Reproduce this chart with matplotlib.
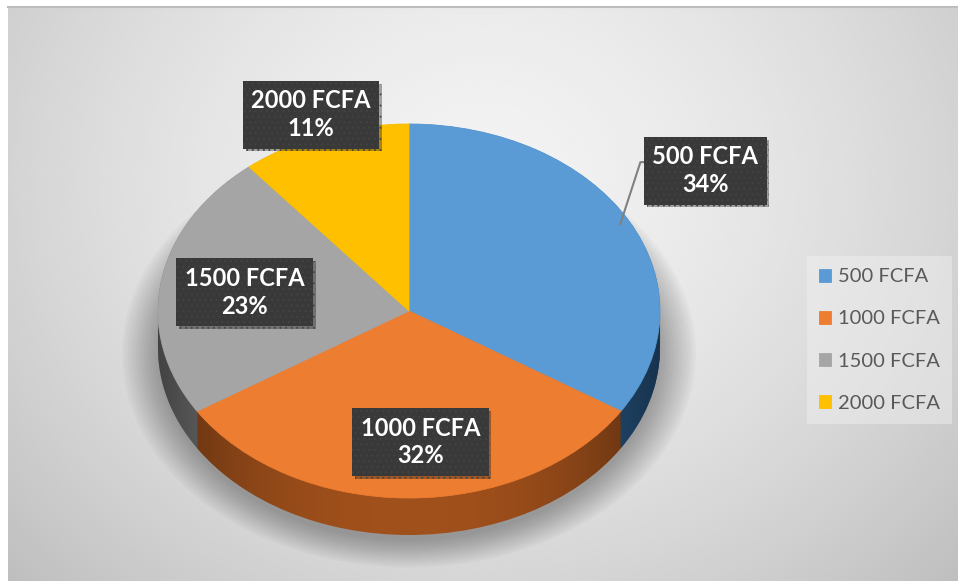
import numpy as np
import matplotlib.pyplot as plt
from matplotlib import patheffects as pe
from matplotlib.lines import Line2D
from matplotlib.path import Path
from matplotlib.patches import Ellipse

labels = ['500 FCFA', '1000 FCFA', '1500 FCFA', '2000 FCFA']
shares = [34, 32, 23, 11]
colors = ['#5B9BD5', '#ED7D31', '#A5A5A5', '#FFC000']
side_colors = ['#2A5B8A', '#A0501B', '#7A7A7A', '#B58900']

# data label centres, in pie radius units
label_pos = [(1.18, 0.75), (0.045, -0.70), (-0.655, 0.10), (-0.39, 1.05)]

plt.rcParams['hatch.linewidth'] = 0.6

W, H = 958, 581
fig = plt.figure(figsize=(W / 100, H / 100), dpi=100)
fig.patch.set_facecolor('white')

# grey gradient chart area
bg = fig.add_axes([8 / W, 0, 1 - 8 / W, 1 - 7 / H])
yy, xx = np.mgrid[0:1:300j, 0:1:500j]
r = np.sqrt(((xx - 0.5) / 0.55) ** 2 + ((yy - 0.3) / 0.8) ** 2)
bg.imshow(np.clip(0.95 - 0.14 * r ** 1.6, 0, 1), cmap='gray', vmin=0, vmax=1,
          aspect='auto', interpolation='bicubic')
bg.axis('off')
fig.add_artist(Line2D([8 / W, 1], [1 - 7 / H, 1 - 7 / H], color='#bdbdbd', lw=1.5))

# pie axes: 251 px per unit in x, 187 px per unit in y
cx, cy, rx, ry = 409, 311, 251, 187
xlim, ylim = (-1.3, 1.3), (-1.45, 1.2)
left = cx + xlim[0] * rx
bottom = cy - ylim[0] * ry
ax = fig.add_axes([left / W, (H - bottom) / H, (xlim[1] - xlim[0]) * rx / W,
                   (ylim[1] - ylim[0]) * ry / H])
ax.patch.set_alpha(0)
depth = 37 / ry

# soft shadow under the pie
for k in range(14):
    s = 1.0 + 0.011 * k
    ax.add_patch(Ellipse((0.0, -depth - 0.03), 2 * s, 2 * s, color='black',
                         alpha=0.022, lw=0, zorder=0.5))

# side of the 3D pie: stacked darker copies
for off in np.linspace(depth, 0, 40):
    ax.pie(shares, colors=side_colors, startangle=90, counterclock=False,
           center=(0, -off), wedgeprops=dict(linewidth=0))

# darker ends on the side
t1 = np.linspace(0, np.pi, 100)
t2 = np.linspace(np.pi, 2 * np.pi, 100)
verts = np.vstack([np.column_stack([np.cos(t1), np.sin(t1)]),
                   np.column_stack([np.cos(t2), np.sin(t2) - depth])])
clip = Path(verts, closed=True)
gx = np.linspace(-1, 1, 300)
shade = np.zeros((2, 300, 4))
shade[..., 3] = 0.45 * np.abs(gx) ** 2.5
im = ax.imshow(shade, extent=(-1, 1, -1 - depth, 1), aspect='auto',
               interpolation='bilinear', zorder=1.5)
im.set_clip_path(clip, transform=ax.transData)

# top face
wedges, _ = ax.pie(shares, colors=colors, startangle=90, counterclock=False,
                   wedgeprops=dict(linewidth=0.6, zorder=2))
for w, c in zip(wedges, colors):
    w.set_edgecolor(c)

ax.set_aspect('auto')
ax.set_xlim(*xlim)
ax.set_ylim(*ylim)
ax.axis('off')

# data labels
bbox = dict(boxstyle='square,pad=0.36', fc='#393939', ec='#444444', lw=0, hatch='...')
start = 90.0
for i, (lab, v) in enumerate(zip(labels, shares)):
    mid = np.radians(start - v * 1.8)
    start -= v * 3.6
    txt = f'{lab}\n{v}%'
    kw = dict(ha='center', va='center', fontsize=17, fontweight='bold',
              color='white', family='Lato', linespacing=1.25, bbox=dict(bbox),
              zorder=4)
    if i == 0:
        t = ax.annotate(txt, xy=(0.96 * np.cos(mid), 0.96 * np.sin(mid)),
                        xytext=label_pos[i],
                        arrowprops=dict(arrowstyle='-', color='#808080', lw=1.5,
                                        connectionstyle='angle,angleA=0,angleB=72,rad=0',
                                        relpos=(0, 0.67), shrinkA=0, shrinkB=0),
                        **kw)
    else:
        t = ax.text(*label_pos[i], txt, **kw)
    t.get_bbox_patch().set_path_effects(
        [pe.withSimplePatchShadow(offset=(2, -2), alpha=0.35), pe.Normal()])

leg = ax.legend(wedges, labels, loc='center left', bbox_to_anchor=(807 / W, 1 - 340 / H),
                bbox_transform=fig.transFigure, borderaxespad=0,
                prop=dict(family='Lato', size=14.5), labelcolor='#595959',
                handlelength=0.6, handleheight=0.6, handletextpad=0.35,
                labelspacing=1.25, borderpad=0.6, fancybox=False,
                facecolor='#f2f2f2', edgecolor='none', framealpha=0.45)

fig.savefig('out.png', dpi=100)
